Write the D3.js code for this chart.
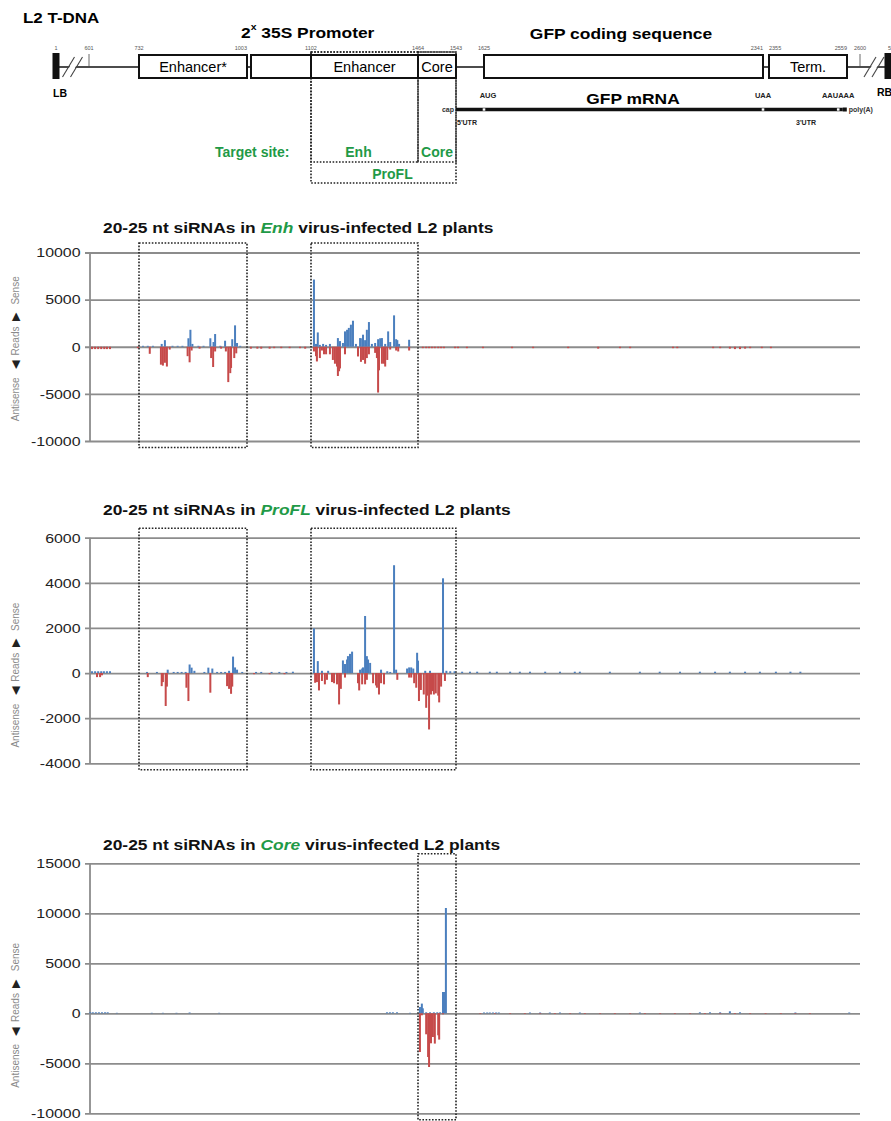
<!DOCTYPE html>
<html>
<head>
<meta charset="utf-8">
<script src="https://cdn.jsdelivr.net/npm/d3@7"></script>
<style>
  body { margin: 0; background: #fff; }
  svg { display: block; font-family: "Liberation Sans", Arial, sans-serif; }
  text { white-space: pre; }
</style>
</head>
<body>
<svg id="fig" width="891" height="1121"></svg>
<script>
// ---- T-DNA map: coordinates (nt) of the marked sites, and the schematic x of each
const siteNt     = [1, 601, 732, 1003, 1102, 1464, 1543, 1625, 2341, 2355, 2559, 2600, 5044];
const siteLabel  = ["1", "601", "732", "1003", "1102", "1464", "1543", "1625", "2341", "2355", "2559", "2600", "5044"];
const siteX      = [56, 89, 139, 247, 311, 418, 456, 484, 763, 769, 847, 860, 888];
const siteAnchor = ["middle", "middle", "middle", "end", "middle", "middle", "middle", "middle", "end", "start", "end", "middle", "start"];

// boxes on the map
const boxNames = ["Enhancer*", "", "Enhancer", "Core", "", "Term."];
const boxFrom  = [732, 1003, 1102, 1464, 1625, 2355];
const boxTo    = [1003, 1102, 1464, 1543, 2341, 2559];

// target sites of the viral vectors
const targetNames = ["Enh", "Core", "ProFL"];
const targetFrom  = [1102, 1464, 1102];
const targetTo    = [1464, 1543, 1543];

// GFP mRNA features
const mrnaFrom = 1543, mrnaTo = 2548;
const mrnaMarks = ["AUG", "UAA", "AAUAAA"];
const mrnaMarkNt = [1625, 2341, 2536];

// ---- siRNA reads: [position nt, reads] ; sense > 0, antisense < 0
const enhSense = [
  [742,100],[754,100],[767,100],[789,300],[797,700],[816,100],[829,100],[841,100],[856,900],[861,1800],[866,300],
  [881,100],[894,100],[911,900],[919,500],[923,1350],[936,100],[948,640],[966,800],[973,2270],[978,400],[986,100],
  [1112,7130],[1119,300],[1125,1520],[1132,200],[1143,300],[1153,200],[1166,300],[1193,920],[1200,600],[1210,400],
  [1217,1630],[1224,1800],[1230,2000],[1237,2340],[1244,2760],[1254,300],[1268,920],[1275,900],[1278,1280],[1285,700],
  [1291,1800],[1298,2620],[1308,300],[1319,400],[1329,800],[1336,900],[1342,920],[1353,300],[1363,1630],[1370,500],
  [1383,3330],[1390,800],[1394,700],[1400,300],[1434,740]
];
const enhAnti = [
  [609,-250],[617,-250],[625,-250],[633,-250],[641,-250],[648,-250],[656,-250],
  [729,-150],[759,-750],[787,-1900],[792,-2000],[797,-1700],[802,-2100],[809,-300],[854,-1000],[859,-1650],[864,-400],
  [884,-200],[913,-1200],[918,-2150],[923,-500],[938,-200],[950,-500],[956,-3750],[961,-2800],[963,-2250],[971,-1200],[976,-700],
  [1009,-200],[1019,-200],[1025,-200],[1038,-200],[1045,-150],[1056,-150],[1069,-150],[1085,-150],[1093,-200],
  [1112,-500],[1119,-1000],[1122,-1560],[1132,-1200],[1139,-400],[1146,-800],[1153,-800],[1166,-800],[1176,-1400],
  [1183,-1800],[1190,-2100],[1193,-3100],[1197,-2600],[1200,-2300],[1217,-800],[1261,-1030],[1271,-1600],[1278,-1400],
  [1285,-1800],[1291,-1200],[1298,-800],[1319,-650],[1325,-1200],[1329,-4860],[1332,-2500],[1342,-1800],[1349,-1800],
  [1353,-2100],[1360,-1400],[1370,-300],[1390,-400],[1397,-500],[1434,-400],
  [1474,-150],[1481,-150],[1487,-150],[1493,-150],[1499,-150],[1506,-150],[1512,-150],[1518,-150],
  [1541,-150],[1549,-150],[1575,-150],[1622,-150],[1697,-150],[1751,-150],[1841,-150],[1918,-200],[1974,-150],[2000,-150],
  [2110,-150],[2121,-150],[2213,-150],[2231,-150],[2256,-200],[2269,-250],[2282,-250],[2295,-200],[2308,-150],[2338,-150],[2360,-150]
];

const proflSense = [
  [609,80],[617,80],[625,80],[633,80],[640,80],[648,80],[656,80],
  [752,50],[777,50],[804,150],[819,50],[829,50],[839,50],[849,50],[859,380],[864,240],[871,100],[896,50],[906,240],
  [916,200],[928,50],[938,50],[948,50],[958,100],[968,730],[973,250],[978,150],[991,50],
  [1017,50],[1025,50],[1041,50],[1053,50],[1064,50],[1074,60],
  [1112,1980],[1125,530],[1139,100],[1160,100],[1210,560],[1217,400],[1224,600],[1227,750],[1234,850],[1241,950],
  [1268,150],[1275,200],[1278,250],[1285,2530],[1291,750],[1295,600],[1302,450],[1339,150],[1360,80],[1370,50],
  [1383,4780],[1390,150],[1427,200],[1434,250],[1441,250],[1448,200],[1461,900],[1464,550],
  [1479,100],[1489,100],[1516,4200],[1523,100],[1531,80],[1540,80],
  [1561,60],[1584,60],[1605,60],[1640,60],[1658,60],[1692,60],[1717,60],[1743,60],[1782,60],[1820,60],[1858,60],
  [1871,60],[1948,60],[2025,60],[2076,60],[2128,60],[2179,60],[2218,60],[2256,60],[2295,60],[2333,60],[2373,60],[2411,60],[2437,60]
];
const proflAnti = [
  [622,-180],[630,-180],[635,-100],
  [754,-180],[789,-580],[792,-400],[799,-1460],[802,-600],[851,-650],[856,-1240],[911,-870],[953,-580],[958,-700],[963,-920],[966,-600],
  [1014,-50],[1038,-50],[1061,-50],
  [1116,-430],[1122,-400],[1129,-770],[1139,-350],[1149,-500],[1156,-300],[1173,-400],[1180,-450],[1190,-500],[1197,-1390],
  [1203,-700],[1217,-200],[1261,-450],[1265,-770],[1275,-500],[1285,-500],[1291,-300],[1312,-450],[1322,-550],[1325,-650],
  [1332,-950],[1339,-450],[1349,-500],[1394,-300],[1434,-200],[1441,-200],[1451,-450],[1458,-650],
  [1466,-1240],[1470,-750],[1476,-950],[1481,-1540],[1483,-1000],[1487,-2500],[1491,-950],[1495,-800],[1497,-950],
  [1501,-900],[1506,-1000],[1508,-1300],[1512,-600],[1520,-350]
];

const coreSense = [
  [604,100],[611,100],[619,100],[627,100],[635,100],[643,100],[650,100],
  [674,50],[764,50],[792,50],[826,50],[859,80],[933,50],
  [1359,100],[1369,100],[1379,100],[1393,100],[1437,50],
  [1468,630],[1472,970],[1474,500],[1481,100],[1489,100],[1497,100],[1504,100],[1510,100],[1516,2130],[1518,2130],[1522,10530],
  [1625,80],[1633,80],[1640,80],[1648,80],[1656,80],[1663,80],[1743,80],[1769,80],[1794,80],[1820,80],[1871,80],
  [2025,80],[2179,100],[2205,100],[2231,100],[2256,200],[2282,100],[2424,80],[2566,80]
];
const coreAnti = [
  [1468,-3870],[1472,-200],[1481,-2100],[1485,-4370],[1487,-5370],[1491,-3000],[1495,-2370],[1499,-3030],[1506,-2200],[1508,-2630],[1516,-100],
  [1614,-60],[1653,-60],[1692,-60],[1730,-60],[1769,-60],[1807,-60],[1846,-60],[1884,-60],[1923,-60],[1961,-60],[2000,-60],
  [2038,-60],[2077,-60],[2115,-60],[2154,-60],[2192,-60],[2231,-60],[2269,-60],[2308,-60],[2347,-60],[2386,-60],[2424,-60],[2462,-60]
];

const enhTicks   = [10000, 5000, 0, -5000, -10000];
const proflTicks = [6000, 4000, 2000, 0, -2000, -4000];
const coreTicks  = [15000, 10000, 5000, 0, -5000, -10000];

// regions boxed with dots on each chart
const enhBoxes   = [[732, 1003], [1102, 1464]];
const proflBoxes = [[732, 1003], [1102, 1543]];
const coreBoxes  = [[1464, 1543]];

const blue = '#4b7fbe';
const red = '#c64a4a';
const green = '#1f9a47';
const grid = '#8c8c8c';

const svg = d3.select('#fig');
const xPos = d3.scaleLinear().domain(siteNt).range(siteX);

// ---------------- T-DNA diagram ----------------
const diag = svg.append('g');

diag.append('text')
  .attr('transform', 'translate(23,23) scale(1.13,1)')
  .attr('font-size', 15).attr('font-weight', 'bold')
  .text('L2 T-DNA');

let promo = diag.append('text')
  .attr('transform', 'translate(241,38) scale(1.16,1)')
  .attr('font-size', 15).attr('font-weight', 'bold');
promo.append('tspan').text('2');
promo.append('tspan').attr('font-size', 9).attr('dy', -8).text('x');
promo.append('tspan').attr('dy', 8).text(' 35S Promoter');

diag.append('text')
  .attr('transform', 'translate(621,39) scale(1.16,1)')
  .attr('text-anchor', 'middle')
  .attr('font-size', 15).attr('font-weight', 'bold')
  .text('GFP coding sequence');

// backbone
diag.append('line')
  .attr('x1', xPos(1)).attr('x2', xPos(siteNt[siteNt.length - 1]))
  .attr('y1', 67).attr('y2', 67)
  .attr('stroke', '#111').attr('stroke-width', 1.5);

// breaks
[[1, 601], [2600, siteNt[siteNt.length - 1]]].forEach(p => {
  const c = (xPos(p[0]) + xPos(p[1])) / 2;
  diag.append('polygon')
    .attr('points', `${c - 9},77 ${c + 3},57 ${c + 9},57 ${c - 3},77`)
    .attr('fill', '#fff');
  [-4, 4].forEach(o => {
    diag.append('line')
      .attr('x1', c + o - 6).attr('y1', 77).attr('x2', c + o + 6).attr('y2', 57)
      .attr('stroke', '#444').attr('stroke-width', 1.1);
  });
});

// borders LB / RB
[1, siteNt[siteNt.length - 1]].forEach(nt => {
  diag.append('rect')
    .attr('x', xPos(nt) - 3.5).attr('y', 53).attr('width', 7).attr('height', 26)
    .attr('fill', '#111');
});
diag.append('text').attr('x', 53).attr('y', 97)
  .attr('font-size', 10.5).attr('font-weight', 'bold').text('LB');
diag.append('text').attr('x', 877).attr('y', 96)
  .attr('font-size', 10.5).attr('font-weight', 'bold').text('RB');

// little ticks at 601 and 2600
[601, 2600].forEach(nt => {
  diag.append('line')
    .attr('x1', xPos(nt)).attr('x2', xPos(nt)).attr('y1', 54).attr('y2', 67)
    .attr('stroke', '#444').attr('stroke-width', 0.8);
});

// site numbers
diag.selectAll('text.site').data(siteNt).join('text')
  .attr('class', 'site')
  .attr('x', d => xPos(d))
  .attr('y', 50)
  .attr('text-anchor', (d, i) => siteAnchor[i])
  .attr('font-size', 5.5).attr('fill', '#555')
  .text((d, i) => siteLabel[i]);

// target site dotted frames (under the boxes)
const frameBottom = [162, 162, 183];
targetNames.forEach((t, i) => {
  diag.append('rect')
    .attr('x', xPos(targetFrom[i])).attr('y', 52)
    .attr('width', xPos(targetTo[i]) - xPos(targetFrom[i]))
    .attr('height', frameBottom[i] - 52)
    .attr('fill', 'none').attr('stroke', '#222')
    .attr('stroke-width', 1.6).attr('stroke-dasharray', '1.6,1.6');
});

// boxes
boxNames.forEach((b, i) => {
  const x0 = xPos(boxFrom[i]) + (i === 1 ? 4 : 0);
  const x1 = xPos(boxTo[i]);
  diag.append('rect')
    .attr('x', x0).attr('y', 55).attr('width', x1 - x0).attr('height', 23)
    .attr('fill', '#fff').attr('stroke', '#111').attr('stroke-width', 2);
  if (b) {
    diag.append('text')
      .attr('x', (x0 + x1) / 2).attr('y', 72)
      .attr('text-anchor', 'middle').attr('font-size', 14.5)
      .text(b);
  }
});

// target labels
diag.append('text').attr('x', 215).attr('y', 157)
  .attr('font-size', 14).attr('font-weight', 'bold').attr('fill', green)
  .text('Target site:');
const targetLabelY = [157, 157, 179];
const targetLabelDx = [-6, 0, 9];
targetNames.forEach((t, i) => {
  diag.append('text')
    .attr('x', (xPos(targetFrom[i]) + xPos(targetTo[i])) / 2 + targetLabelDx[i])
    .attr('y', targetLabelY[i])
    .attr('text-anchor', 'middle')
    .attr('font-size', 14).attr('font-weight', 'bold').attr('fill', green)
    .text(t);
});

// GFP mRNA
diag.append('line')
  .attr('x1', xPos(mrnaFrom)).attr('x2', xPos(mrnaTo))
  .attr('y1', 109.5).attr('y2', 109.5)
  .attr('stroke', '#111').attr('stroke-width', 3.5);
diag.append('rect')
  .attr('x', xPos(mrnaTo)).attr('y', 107.5).attr('width', 4).attr('height', 4)
  .attr('fill', '#111');
diag.selectAll('rect.mark').data(mrnaMarkNt).join('rect')
  .attr('class', 'mark')
  .attr('x', d => xPos(d) - 1.3).attr('y', 108.3).attr('width', 2.6).attr('height', 2.4)
  .attr('fill', '#fff');
diag.selectAll('text.mark').data(mrnaMarks).join('text')
  .attr('class', 'mark')
  .attr('x', (d, i) => xPos(mrnaMarkNt[i]) + (i === 0 ? 4 : 0))
  .attr('y', 98)
  .attr('text-anchor', 'middle')
  .attr('font-size', 7.5).attr('font-weight', 'bold').attr('fill', '#222')
  .text(d => d);
diag.append('text')
  .attr('transform', 'translate(633,104) scale(1.16,1)')
  .attr('text-anchor', 'middle')
  .attr('font-size', 15).attr('font-weight', 'bold')
  .text('GFP mRNA');
diag.append('text').attr('x', xPos(mrnaFrom) - 2).attr('y', 112)
  .attr('text-anchor', 'end').attr('font-size', 7).attr('font-weight', 'bold').attr('fill', '#333')
  .text('cap');
diag.append('text').attr('x', xPos(mrnaTo) + 6).attr('y', 112)
  .attr('font-size', 7).attr('font-weight', 'bold').attr('fill', '#333')
  .text('poly(A)');
diag.append('text').attr('x', xPos(mrnaFrom) + 1).attr('y', 125)
  .attr('font-size', 7).attr('font-weight', 'bold').attr('fill', '#222')
  .text("5'UTR");
diag.append('text').attr('x', 806).attr('y', 125)
  .attr('text-anchor', 'middle')
  .attr('font-size', 7).attr('font-weight', 'bold').attr('fill', '#222')
  .text("3'UTR");

// ---------------- siRNA charts ----------------
const charts = [
  { target: 'Enh',   sense: enhSense,   anti: enhAnti,   ticks: enhTicks,   boxes: enhBoxes,   top: 252.5, bottom: 441,   titleY: 233 },
  { target: 'ProFL', sense: proflSense, anti: proflAnti, ticks: proflTicks, boxes: proflBoxes, top: 537.7, bottom: 763.3, titleY: 515 },
  { target: 'Core',  sense: coreSense,  anti: coreAnti,  ticks: coreTicks,  boxes: coreBoxes,  top: 863.3, bottom: 1113.3, titleY: 850 }
];

const plotLeft = 90;
const plotRight = 860;

charts.forEach(c => {
  const g = svg.append('g');
  const y = d3.scaleLinear().domain(d3.extent(c.ticks)).range([c.bottom, c.top]);

  // title
  const title = g.append('text')
    .attr('transform', `translate(103,${c.titleY}) scale(1.16,1)`)
    .attr('font-size', 15).attr('font-weight', 'bold').attr('fill', '#111');
  title.append('tspan').text('20-25 nt siRNAs in ');
  title.append('tspan').attr('fill', green).attr('font-style', 'italic').text(c.target);
  title.append('tspan').text(' virus-infected L2 plants');

  // axis + gridlines
  const axis = d3.axisLeft(y)
    .tickValues(c.ticks)
    .tickSize(-(plotRight - plotLeft))
    .tickPadding(8)
    .tickFormat(d => String(d));
  const ga = g.append('g').attr('transform', `translate(${plotLeft},0)`).call(axis);
  ga.select('.domain').remove();
  ga.selectAll('.tick line')
    .attr('x1', -5)
    .attr('stroke', grid).attr('stroke-width', 1.8);
  ga.selectAll('.tick text')
    .attr('font-family', '"Liberation Sans", Arial, sans-serif')
    .attr('font-size', 13.5).attr('fill', '#222')
    .attr('transform', 'scale(1.18,1)');
  g.append('line')
    .attr('x1', plotLeft).attr('x2', plotLeft)
    .attr('y1', c.top).attr('y2', c.bottom)
    .attr('stroke', grid).attr('stroke-width', 1.8);

  // y label
  const yl = g.append('text')
    .attr('transform', `translate(18.5,${y(0) + 2}) rotate(-90)`)
    .attr('text-anchor', 'middle')
    .attr('font-size', 10).attr('fill', '#8a8a8a');
  yl.append('tspan').text('Antisense   ');
  yl.append('tspan').attr('fill', '#222').attr('font-size', 11).text('◀');
  yl.append('tspan').text('  Reads  ');
  yl.append('tspan').attr('fill', '#222').attr('font-size', 11).text('▶');
  yl.append('tspan').text('   Sense');

  // bars
  g.selectAll('rect.sense').data(c.sense).join('rect')
    .attr('class', 'sense')
    .attr('x', d => xPos(d[0]) - 1).attr('width', 2)
    .attr('y', d => y(d[1])).attr('height', d => y(0) - y(d[1]))
    .attr('fill', blue);
  g.selectAll('rect.anti').data(c.anti).join('rect')
    .attr('class', 'anti')
    .attr('x', d => xPos(d[0]) - 1).attr('width', 2)
    .attr('y', y(0)).attr('height', d => y(d[1]) - y(0))
    .attr('fill', red);

  // dotted target regions
  g.selectAll('rect.box').data(c.boxes).join('rect')
    .attr('class', 'box')
    .attr('x', d => xPos(d[0])).attr('width', d => xPos(d[1]) - xPos(d[0]))
    .attr('y', c.top - 9.5).attr('height', c.bottom - c.top + 16)
    .attr('fill', 'none').attr('stroke', '#222')
    .attr('stroke-width', 1.6).attr('stroke-dasharray', '1.6,1.6');
});
</script>
</body>
</html>
